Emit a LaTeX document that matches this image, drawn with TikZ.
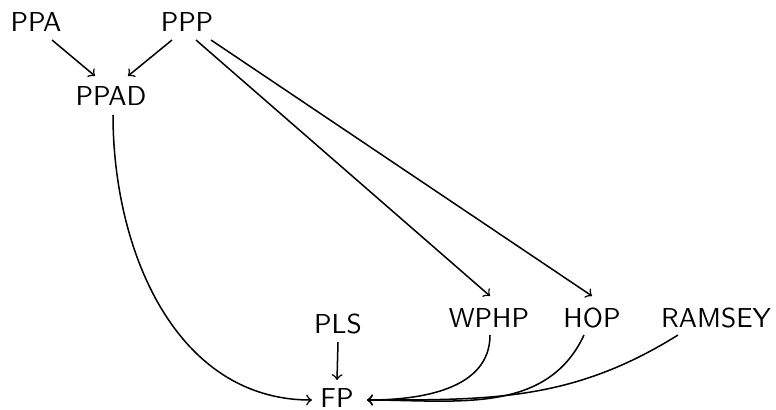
\documentclass[tikz,border=0pt]{standalone}
\usetikzlibrary{calc}
\begin{document}
\begin{tikzpicture}[x=0.3653pt,y=-0.3653pt,
  lbl/.style={anchor=base,inner sep=0pt,font=\sffamily},
  arr/.style={->,line width=0.55pt}]
\useasboundingbox (0,0) rectangle (776,409);
\node[lbl] (PPA) at (36,31) {PPA};
\node[lbl] (PPP) at (187,31) {PPP};
\node[lbl] (PPAD) at (111,105) {PPAD};
\node[lbl] (PLS) at (338,333) {PLS};
\node[lbl] (WPHP) at (489,327) {WPHP};
\node[lbl] (HOP) at (592,327) {HOP};
\node[lbl] (RAMSEY) at (716,327) {RAMSEY};
\node[lbl] (FP) at (337,407) {FP};
% straight arrows
\draw[arr] ($(PPA.base)+(16,9)$) -- ($(PPAD.base)+(-16,-29)$);
\draw[arr] ($(PPP.base)+(-15,9)$) -- ($(PPAD.base)+(17,-29)$);
\draw[arr] ($(PPP.base)+(9,9)$) -- ($(WPHP.base)+(1,-31)$);
\draw[arr] ($(PPP.base)+(24,9)$) -- ($(HOP.base)+(0,-31)$);
\draw[arr] ($(PLS.base)+(0,9)$) -- ($(FP.base)+(0,-27)$);
% curved arrows into FP
\draw[arr] ($(PPAD.base)+(2,10)$) to[out=-90,in=180] ($(FP.base)+(-25,-7)$);
\draw[arr] ($(WPHP.base)+(1,8)$) to[out=-90,in=0] ($(FP.base)+(30,-7)$);
\draw[arr] ($(HOP.base)+(-8,8)$) to[out=-115,in=0] ($(FP.base)+(30,-7)$);
\draw[arr] ($(RAMSEY.base)+(-38,8)$) to[out=-148,in=0] ($(FP.base)+(30,-7)$);
\end{tikzpicture}
\end{document}
